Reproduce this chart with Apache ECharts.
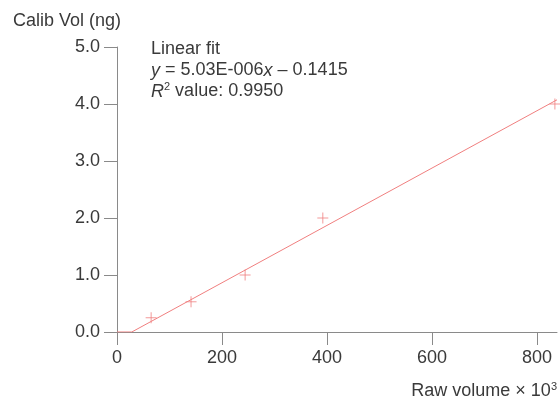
<!DOCTYPE html>
<html>
<head>
<meta charset="utf-8">
<script src="https://cdn.jsdelivr.net/npm/echarts@6/dist/echarts.min.js"></script>
<style>
  html, body { margin: 0; padding: 0; background: #fff; }
  #chart { width: 560px; height: 400px; }
</style>
</head>
<body>
<div id="chart"></div>
<script>
// raw volume (x 10^3) and calibrated volume (ng)
const rawVolume = [65, 141, 244, 392, 834];
const calibVol = [0.25, 0.53, 1.0, 2.0, 4.0];
const xTicks = [0, 200, 400, 600, 800];
const yTicks = [0, 1, 2, 3, 4, 5];

// fit shown in the chart (per raw unit)
const fitSlope = 5.03e-6;
const fitIntercept = -0.1415;
const fitR2 = 0.995;

const xMax = 838;
const font = "Liberation Sans, Arial, sans-serif";
const red = "#f07f7f";
const axisGray = "#8a8a8a";
const textColor = "#3a3a3a";

// line clipped at zero, like the original
const slopeK = fitSlope * 1000;
const xZero = -fitIntercept / slopeK;
const fitLine = [[0, 0], [xZero, 0], [xMax, slopeK * xMax + fitIntercept]];

const chart = echarts.init(document.getElementById("chart"));

chart.setOption({
  animation: false,
  grid: { left: 117, top: 47, right: 3, bottom: 68 },
  xAxis: {
    type: "value",
    min: 0,
    max: xMax,
    interval: 200,
    splitLine: { show: false },
    axisLine: { lineStyle: { color: axisGray, width: 1 } },
    axisTick: { show: true, length: 13, lineStyle: { color: axisGray } },
    axisLabel: {
      showMaxLabel: false,
      margin: 17,
      color: textColor,
      fontSize: 18,
      fontFamily: font,
      formatter: (v) => (xTicks.includes(v) ? String(v) : "")
    }
  },
  yAxis: {
    type: "value",
    min: 0,
    max: 5,
    interval: 1,
    splitLine: { show: false },
    axisLine: { show: true, lineStyle: { color: axisGray, width: 1 } },
    axisTick: { show: true, length: 13, lineStyle: { color: axisGray } },
    axisLabel: {
      margin: 17,
      color: textColor,
      fontSize: 18,
      fontFamily: font,
      formatter: (v) => (yTicks.includes(v) ? v.toFixed(1) : "")
    }
  },
  graphic: [
    {
      type: "text",
      x: 13,
      y: 21,
      style: {
        text: "Calib Vol (ng)",
        fill: textColor,
        font: "18px " + font,
        verticalAlign: "middle"
      }
    },
    {
      type: "text",
      x: 151,
      y: 39,
      style: {
        text: [
          "Linear fit",
          "{i|y} = " + fitSlope.toExponential(2).replace("e-6", "E-006") + "{i|x} – " + Math.abs(fitIntercept).toFixed(4),
          "{i|R}{sup|2} value: " + fitR2.toFixed(4)
        ].join("\n"),
        fill: textColor,
        font: "18px " + font,
        lineHeight: 21,
        rich: {
          i: { fontStyle: "italic", fontSize: 18, fontFamily: font, fill: textColor, lineHeight: 21 },
          sup: { fontSize: 11, fontFamily: font, fill: textColor, verticalAlign: "top", padding: [0, 0, 8, 0], lineHeight: 21 }
        }
      }
    },
    {
      type: "text",
      x: 557,
      y: 391,
      style: {
        text: "Raw volume × 10{sup|3}",
        fill: textColor,
        font: "18px " + font,
        align: "right",
        verticalAlign: "middle",
        rich: {
          sup: { fontSize: 11, fontFamily: font, fill: textColor, verticalAlign: "top", padding: [0, 0, 8, 0] }
        }
      }
    }
  ],
  series: [
    {
      type: "line",
      data: fitLine,
      symbol: "none",
      lineStyle: { color: red, width: 1 },
      z: 2
    },
    {
      type: "scatter",
      data: rawVolume.map((x, i) => [x, calibVol[i]]),
      symbol: "path://M5,0L5,10M0,5L10,5",
      symbolSize: 11,
      itemStyle: { color: "none", borderColor: red, borderWidth: 1 },
      z: 3
    }
  ]
});
</script>
</body>
</html>
